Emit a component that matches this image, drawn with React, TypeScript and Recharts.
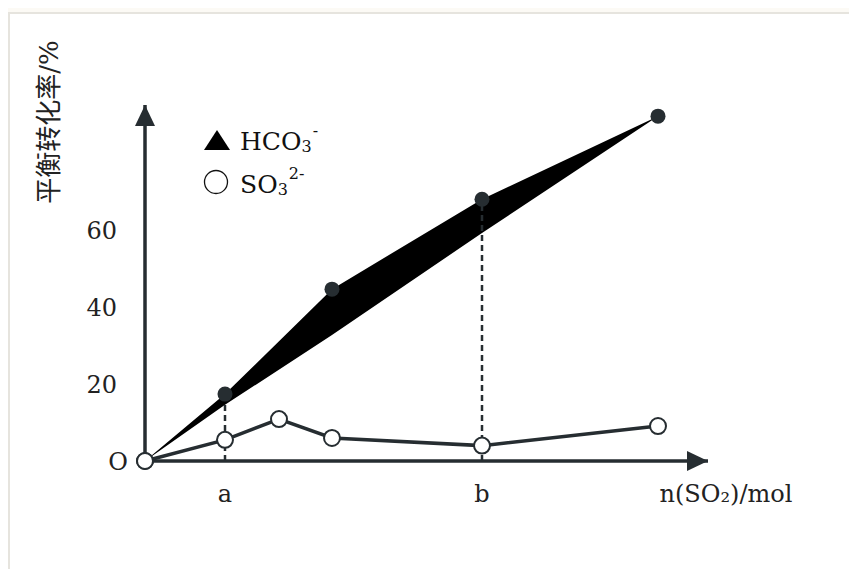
import React from "react";
import {
  ComposedChart,
  Area,
  Line,
  XAxis,
  YAxis,
  ReferenceLine,
  ReferenceDot,
} from "recharts";

// HCO3- : filled band (upper edge through the dots, lower edge almost straight)
const hcoX = [0, 0.8, 1.87, 3.37, 5.13];
const hcoUpper = [0, 17.4, 44.7, 68.1, 89.7];
const hcoLower = [0, 14.6, 32.8, 59.3, 89.7];

// SO3 2- : open circles
const soX = [0, 0.8, 1.34, 1.87, 3.37, 5.13];
const soY = [0, 5.5, 10.9, 6.0, 4.0, 9.1];

const yTicks = [0, 20, 40, 60];
const xTickNames = ["a", "b"];
const xTicks = [hcoX[1], hcoX[3]];

const hcoData = hcoX.map((x, i) => ({ x, band: [hcoLower[i], hcoUpper[i]] }));
const soData = soX.map((x, i) => ({ x, y: soY[i] }));

const INK = "#262d31";
const FONT = "'DejaVu Serif', 'Noto Sans CJK SC', serif";

const YTick = (props: any) => {
  const { x, y, payload } = props;
  const isZero = payload.value === 0;
  return (
    <text
      x={isZero ? x + 11 : x}
      y={y}
      dy="0.355em"
      textAnchor="end"
      fontFamily={FONT}
      fontSize={24}
      fill="#222"
    >
      {isZero ? "O" : payload.value}
    </text>
  );
};

const HcoDot = (props: any) => {
  const { cx, cy, index } = props;
  if (index === 0 || cx == null) return <g key={`h${index}`} />;
  return <circle key={`h${index}`} cx={cx} cy={cy} r={7.5} fill={INK} />;
};

const SoDot = (props: any) => {
  const { cx, cy, index } = props;
  return (
    <circle
      key={`s${index}`}
      cx={cx}
      cy={cy}
      r={8}
      fill="#fff"
      stroke={INK}
      strokeWidth={2}
    />
  );
};

export default function App() {
  return (
    <div
      style={{
        position: "relative",
        margin: -8,
        width: 857,
        height: 577,
        background: "#fcfaf5",
        overflow: "hidden",
      }}
    >
      <div
        style={{
          position: "absolute",
          left: 8,
          top: 12,
          width: 870,
          height: 590,
          background: "#fff",
          borderTop: "2px solid #e6e4de",
          borderLeft: "2px solid #e6e4de",
        }}
      />

      <div style={{ position: "absolute", left: 0, top: 0 }}>
        <ComposedChart
          width={857}
          height={577}
          margin={{ top: 105, right: 149, bottom: 75, left: 0 }}
        >
          <XAxis
            type="number"
            dataKey="x"
            domain={[0, 5.63]}
            ticks={xTicks}
            tickFormatter={(v: number) => xTickNames[xTicks.indexOf(v)]}
            tickLine={false}
            tickMargin={18}
            height={41}
            axisLine={{ stroke: INK, strokeWidth: 3.5 }}
            tick={{ fontFamily: FONT, fontSize: 24, fill: "#222" }}
            label={{
              content: () => (
                <text
                  x={726}
                  y={502}
                  textAnchor="middle"
                  fontFamily={FONT}
                  fontSize={24}
                  fill="#222"
                >
                  n(SO₂)/mol
                </text>
              ),
            }}
          />
          <YAxis
            type="number"
            domain={[0, 92.6]}
            ticks={yTicks}
            width={145}
            tickLine={false}
            tickMargin={22}
            axisLine={{ stroke: INK, strokeWidth: 3.5 }}
            tick={<YTick />}
            label={{
              content: () => (
                <text
                  transform="translate(49,122) rotate(-90)"
                  textAnchor="middle"
                  dominantBaseline="central"
                  fontFamily={FONT}
                  fontSize={26}
                  fill="#222"
                >
                  平衡转化率/%
                </text>
              ),
            }}
          />

          <ReferenceLine
            segment={[
              { x: hcoX[1], y: 0 },
              { x: hcoX[1], y: hcoUpper[1] },
            ]}
            stroke={INK}
            strokeWidth={2.5}
            strokeDasharray="6 4"
          />
          <ReferenceLine
            segment={[
              { x: hcoX[3], y: 0 },
              { x: hcoX[3], y: hcoUpper[3] },
            ]}
            stroke={INK}
            strokeWidth={2.5}
            strokeDasharray="6 4"
          />

          <Area
            data={hcoData}
            dataKey="band"
            type="linear"
            stroke="none"
            fill="#000"
            fillOpacity={1}
            dot={<HcoDot />}
            activeDot={false}
            isAnimationActive={false}
          />
          <Line
            data={soData}
            dataKey="y"
            type="linear"
            stroke={INK}
            strokeWidth={3.5}
            dot={<SoDot />}
            activeDot={false}
            isAnimationActive={false}
          />

          {/* axis arrow heads */}
          <ReferenceDot
            x={0}
            y={92.6}
            ifOverflow="visible"
            shape={(p: any) => (
              <path
                d={`M${p.cx},${p.cy} L${p.cx - 10},${p.cy + 21} L${p.cx + 10},${p.cy + 21} Z`}
                fill={INK}
              />
            )}
          />
          <ReferenceDot
            x={5.63}
            y={0}
            ifOverflow="visible"
            shape={(p: any) => (
              <path
                d={`M${p.cx},${p.cy} L${p.cx - 21},${p.cy - 10} L${p.cx - 21},${p.cy + 10} Z`}
                fill={INK}
              />
            )}
          />
          {/* origin circle drawn on top of the axes */}
          <ReferenceDot
            x={soX[0]}
            y={soY[0]}
            ifOverflow="visible"
            r={8}
            fill="#fff"
            stroke={INK}
            strokeWidth={2}
          />
        </ComposedChart>
      </div>

      {/* legend */}
      <svg
        width={200}
        height={100}
        style={{ position: "absolute", left: 190, top: 115 }}
        fontFamily={FONT}
        fill="#111"
      >
        <g transform="translate(-190,-115)">
          <path d="M217,130 L230,150 L204,150 Z" fill="#000" />
          <text x={240} y={150} fontSize={25}>
            HCO
            <tspan fontSize={16} dy={2}>
              3
            </tspan>
            <tspan fontSize={16} dx={1} dy={-16}>
              -
            </tspan>
          </text>
          <circle cx={216} cy={182} r={11.5} fill="#fff" stroke="#111" strokeWidth={1.3} />
          <text x={240} y={193} fontSize={25}>
            SO
            <tspan fontSize={16} dy={2}>
              3
            </tspan>
            <tspan fontSize={16} dx={1} dy={-16}>
              2-
            </tspan>
          </text>
        </g>
      </svg>
    </div>
  );
}
